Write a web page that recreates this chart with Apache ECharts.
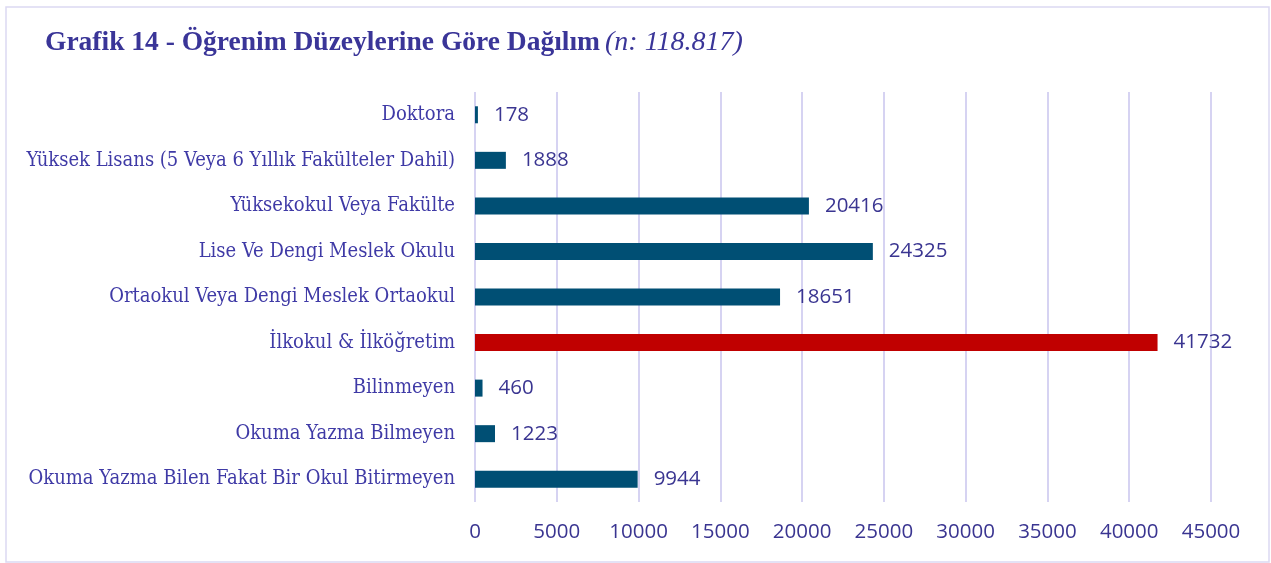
<!DOCTYPE html>
<html>
<head>
<meta charset="utf-8">
<script src="https://cdn.jsdelivr.net/npm/echarts@6/dist/echarts.min.js"></script>
<style>
  html, body { margin: 0; padding: 0; background: #fff; }
  #chart { width: 1271px; height: 563px; }
</style>
</head>
<body>
<div id="chart"></div>
<script>
  // categories top to bottom
  var categories = [
    'Doktora',
    'Yüksek Lisans (5 Veya 6 Yıllık Fakülteler Dahil)',
    'Yüksekokul Veya Fakülte',
    'Lise Ve Dengi Meslek Okulu',
    'Ortaokul Veya Dengi Meslek Ortaokul',
    'İlkokul & İlköğretim',
    'Bilinmeyen',
    'Okuma Yazma Bilmeyen',
    'Okuma Yazma Bilen Fakat Bir Okul Bitirmeyen'
  ];
  var values = [178, 1888, 20416, 24325, 18651, 41732, 460, 1223, 9944];
  var highlighted = ['İlkokul & İlköğretim'];
  var xTicks = [0, 5000, 10000, 15000, 20000, 25000, 30000, 35000, 40000, 45000];

  var textColor = '#3a3591';
  var barColor = '#004f74';
  var redColor = '#c00000';

  var myChart = echarts.init(document.getElementById('chart'));

  var option = {
    animation: false,
    title: {
      text: '{b|Grafik 14 - Öğrenim Düzeylerine Göre Dağılım} {i|(n: 118.817)}',
      left: 40,
      top: 24,
      textStyle: {
        rich: {
          b: { fontFamily: 'Liberation Serif', fontWeight: 'bold', fontSize: 27.5, color: '#3a3598' },
          i: { fontFamily: 'Liberation Serif', fontWeight: 'normal', fontStyle: 'italic', fontSize: 28, color: '#3a3598' }
        }
      }
    },
    graphic: [{
      type: 'rect',
      shape: { x: 6, y: 7, width: 1263, height: 555 },
      style: { fill: 'none', stroke: '#dcd9f2', lineWidth: 1.5 },
      silent: true
    }],
    grid: { left: 475, right: 60, top: 92, bottom: 61 },
    xAxis: {
      type: 'value',
      min: xTicks[0],
      max: xTicks[xTicks.length - 1],
      interval: xTicks[1] - xTicks[0],
      axisLine: { show: false },
      axisTick: { show: false },
      axisLabel: {
        color: textColor, fontFamily: 'Open Sans', fontSize: 20.5, margin: 20,
        formatter: function (v) { return String(v); }
      },
      splitLine: { lineStyle: { color: '#d6d3f2', width: 2 } }
    },
    yAxis: {
      type: 'category',
      inverse: true,
      data: categories,
      axisLine: { show: false },
      axisTick: { show: false },
      axisLabel: { color: '#3f3aa6', fontFamily: 'DejaVu Serif Condensed', fontSize: 20, margin: 20 }
    },
    series: [{
      type: 'bar',
      barWidth: 17,
      data: values.map(function (v, i) {
        return {
          value: v,
          itemStyle: { color: highlighted.indexOf(categories[i]) >= 0 ? redColor : barColor }
        };
      }),
      label: {
        show: true,
        position: 'right',
        distance: 16,
        color: textColor,
        fontFamily: 'Open Sans',
        fontSize: 20.5
      }
    }]
  };

  myChart.setOption(option);
</script>
</body>
</html>
